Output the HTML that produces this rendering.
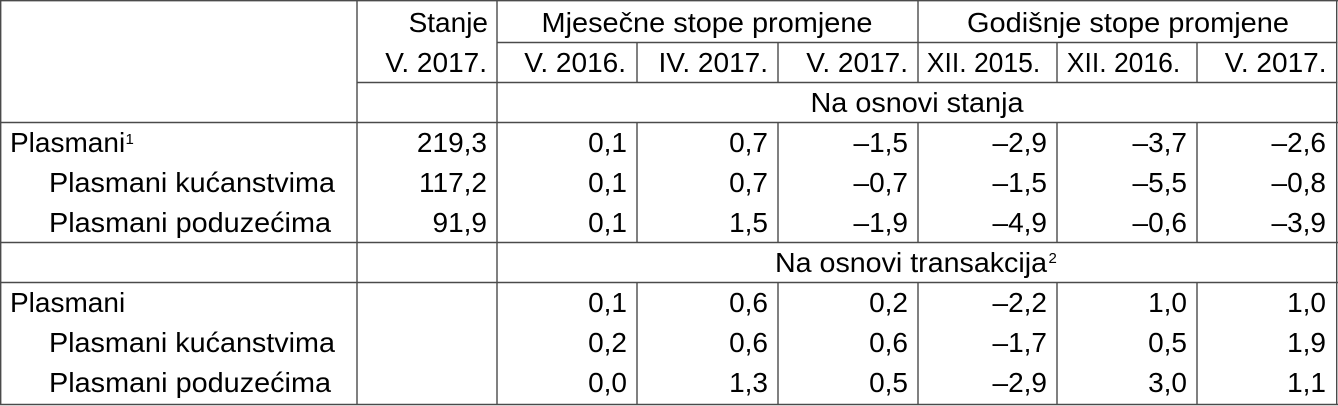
<!DOCTYPE html>
<html>
<head>
<meta charset="utf-8">
<style>
  html, body { margin:0; padding:0; background:#fff; }
  body { width:1338px; height:406px; overflow:hidden; }
  svg { display:block; }
  text { font-family: "Liberation Sans", Arial, sans-serif; font-size:28px; fill:#000; }
  .e { text-anchor:end; }
  .m { text-anchor:middle; }
  .sup { font-size:15px; }
</style>
</head>
<body>
<svg width="1338" height="406" viewBox="0 0 1338 406" xmlns="http://www.w3.org/2000/svg">
  <rect x="0" y="0" width="1338" height="406" fill="#fff"/>
  <g stroke="#4a4a4a" stroke-width="1.4" fill="none">
    <line x1="0" y1="0.7" x2="1338" y2="0.7"/>
    <line x1="497" y1="42.5" x2="1337.5" y2="42.5"/>
    <line x1="357" y1="82.5" x2="1337.5" y2="82.5"/>
    <line x1="0" y1="122.5" x2="1338" y2="122.5"/>
    <line x1="0" y1="242.5" x2="1338" y2="242.5"/>
    <line x1="0" y1="282.5" x2="1338" y2="282.5"/>
    <line x1="0" y1="404.5" x2="1338" y2="404.5"/>
    <line x1="0.7" y1="0" x2="0.7" y2="405"/>
    <line x1="357" y1="0" x2="357" y2="405"/>
    <line x1="497" y1="0" x2="497" y2="405"/>
    <line x1="1336.7" y1="0" x2="1336.7" y2="405"/>
    <line x1="918" y1="0" x2="918" y2="82.5"/>
    <line x1="918" y1="122.5" x2="918" y2="242.5"/>
    <line x1="918" y1="282.5" x2="918" y2="405"/>
    <line x1="637" y1="42.5" x2="637" y2="82.5"/>
    <line x1="637" y1="122.5" x2="637" y2="242.5"/>
    <line x1="637" y1="282.5" x2="637" y2="405"/>
    <line x1="778" y1="42.5" x2="778" y2="82.5"/>
    <line x1="778" y1="122.5" x2="778" y2="242.5"/>
    <line x1="778" y1="282.5" x2="778" y2="405"/>
    <line x1="1057" y1="42.5" x2="1057" y2="82.5"/>
    <line x1="1057" y1="122.5" x2="1057" y2="242.5"/>
    <line x1="1057" y1="282.5" x2="1057" y2="405"/>
    <line x1="1197" y1="42.5" x2="1197" y2="82.5"/>
    <line x1="1197" y1="122.5" x2="1197" y2="242.5"/>
    <line x1="1197" y1="282.5" x2="1197" y2="405"/>
  </g>

  <text class="e" x="488" y="32">Stanje</text>
  <text class="m" x="707" y="32" textLength="331" lengthAdjust="spacingAndGlyphs">Mjesečne stope promjene</text>
  <text class="m" x="1128" y="32" textLength="322" lengthAdjust="spacingAndGlyphs">Godišnje stope promjene</text>

  <text class="e" x="487" y="72">V. 2017.</text>
  <text class="e" x="626" y="72">V. 2016.</text>
  <text class="e" x="768" y="72">IV. 2017.</text>
  <text class="e" x="908" y="72">V. 2017.</text>
  <text x="926.8" y="72" textLength="113.5" lengthAdjust="spacingAndGlyphs">XII. 2015.</text>
  <text x="1066.8" y="72" textLength="113.5" lengthAdjust="spacingAndGlyphs">XII. 2016.</text>
  <text class="e" x="1326.5" y="72">V. 2017.</text>

  <text class="m" x="917" y="112" textLength="213" lengthAdjust="spacingAndGlyphs">Na osnovi stanja</text>

  <text x="10" y="152">Plasmani</text>
  <text class="sup" x="125.5" y="144">1</text>
  <text x="49" y="192" textLength="286" lengthAdjust="spacingAndGlyphs">Plasmani kućanstvima</text>
  <text x="49" y="232" textLength="282" lengthAdjust="spacingAndGlyphs">Plasmani poduzećima</text>

  <text class="e" x="487" y="152">219,3</text>
  <text class="e" x="487" y="192">117,2</text>
  <text class="e" x="487" y="232">91,9</text>

  <text class="e" x="627" y="152">0,1</text>
  <text class="e" x="627" y="192">0,1</text>
  <text class="e" x="627" y="232">0,1</text>

  <text class="e" x="768" y="152">0,7</text>
  <text class="e" x="768" y="192">0,7</text>
  <text class="e" x="768" y="232">1,5</text>

  <text class="e" x="908" y="152">–1,5</text>
  <text class="e" x="908" y="192">–0,7</text>
  <text class="e" x="908" y="232">–1,9</text>

  <text class="e" x="1047" y="152">–2,9</text>
  <text class="e" x="1047" y="192">–1,5</text>
  <text class="e" x="1047" y="232">–4,9</text>

  <text class="e" x="1187" y="152">–3,7</text>
  <text class="e" x="1187" y="192">–5,5</text>
  <text class="e" x="1187" y="232">–0,6</text>

  <text class="e" x="1326" y="152">–2,6</text>
  <text class="e" x="1326" y="192">–0,8</text>
  <text class="e" x="1326" y="232">–3,9</text>

  <text x="775" y="272" textLength="272" lengthAdjust="spacingAndGlyphs">Na osnovi transakcija</text>
  <text class="sup" x="1048.5" y="263">2</text>

  <text x="10" y="312">Plasmani</text>
  <text x="49" y="352" textLength="286" lengthAdjust="spacingAndGlyphs">Plasmani kućanstvima</text>
  <text x="49" y="392" textLength="282" lengthAdjust="spacingAndGlyphs">Plasmani poduzećima</text>

  <text class="e" x="627" y="312">0,1</text>
  <text class="e" x="627" y="352">0,2</text>
  <text class="e" x="627" y="392">0,0</text>

  <text class="e" x="768" y="312">0,6</text>
  <text class="e" x="768" y="352">0,6</text>
  <text class="e" x="768" y="392">1,3</text>

  <text class="e" x="908" y="312">0,2</text>
  <text class="e" x="908" y="352">0,6</text>
  <text class="e" x="908" y="392">0,5</text>

  <text class="e" x="1047" y="312">–2,2</text>
  <text class="e" x="1047" y="352">–1,7</text>
  <text class="e" x="1047" y="392">–2,9</text>

  <text class="e" x="1187" y="312">1,0</text>
  <text class="e" x="1187" y="352">0,5</text>
  <text class="e" x="1187" y="392">3,0</text>

  <text class="e" x="1326" y="312">1,0</text>
  <text class="e" x="1326" y="352">1,9</text>
  <text class="e" x="1326" y="392">1,1</text>
</svg>
</body>
</html>
